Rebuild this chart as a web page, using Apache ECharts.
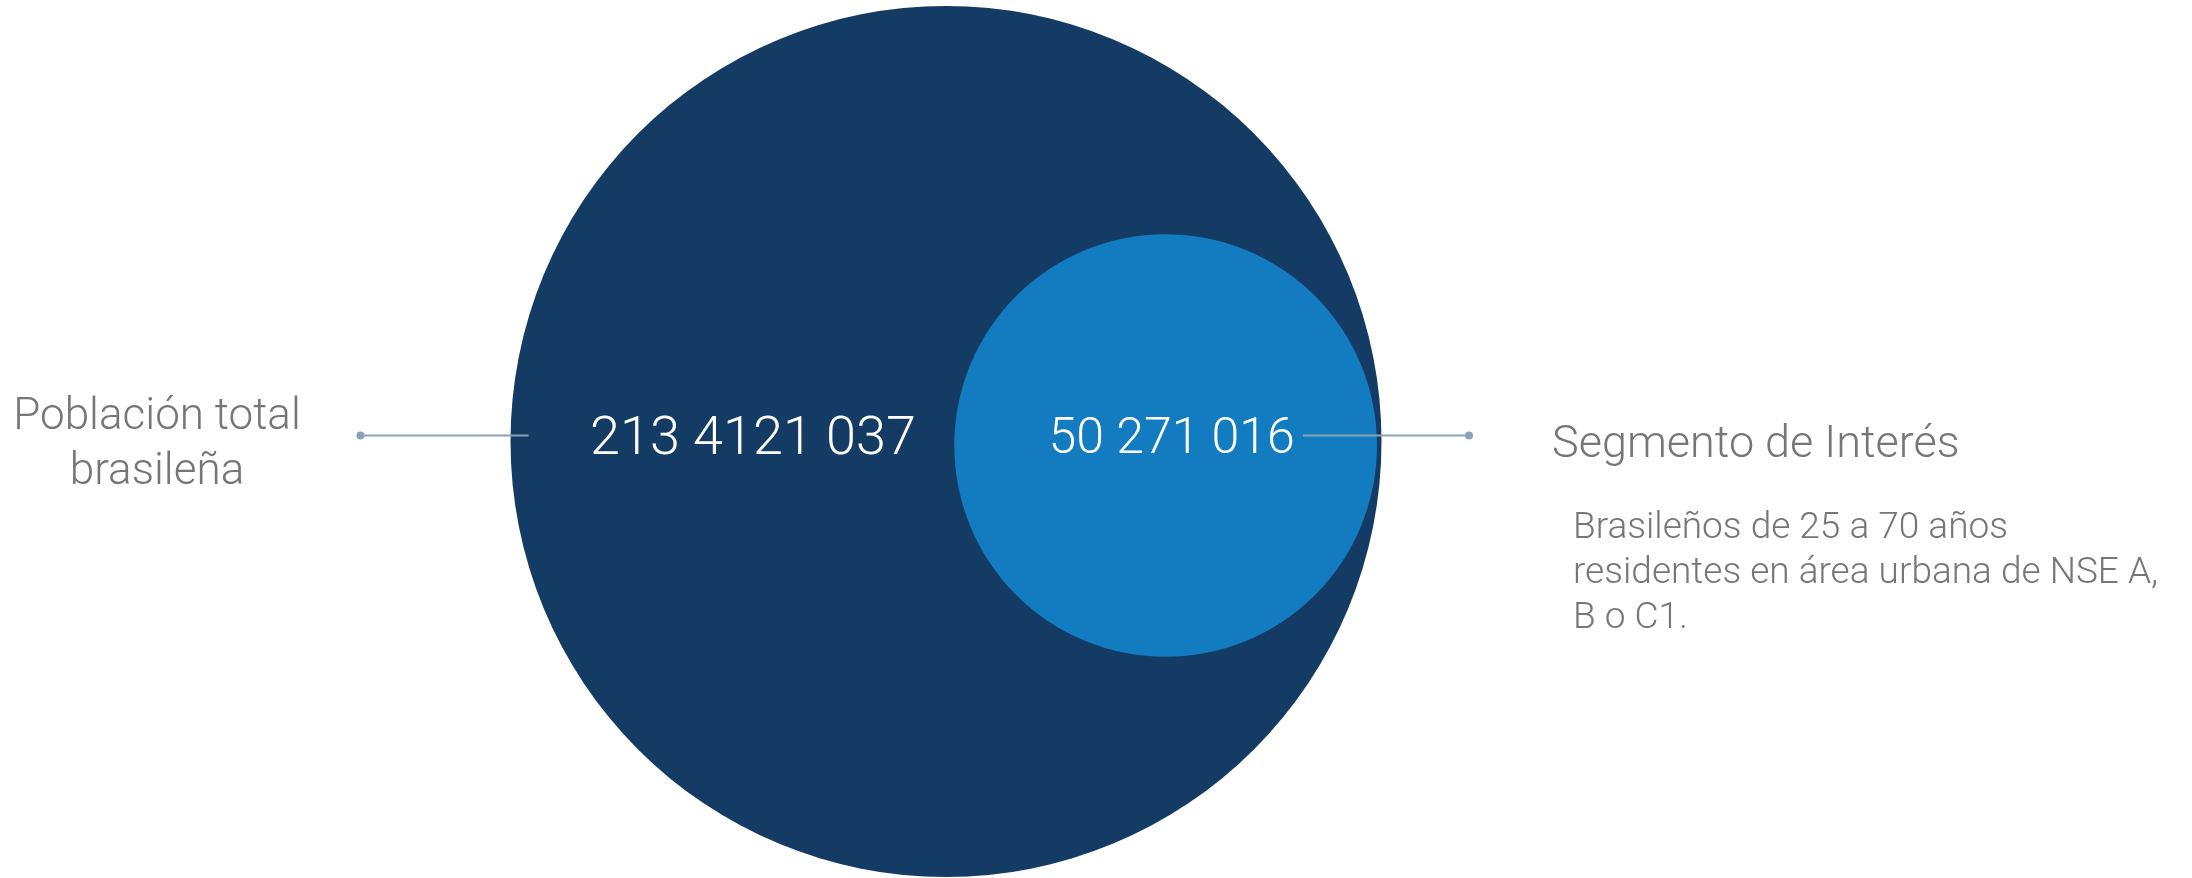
<!DOCTYPE html>
<html>
<head>
<meta charset="utf-8">
<title>Población total brasileña y segmento de interés</title>
<script src="https://cdn.jsdelivr.net/npm/echarts@6/dist/echarts.min.js"></script>
<style>
  html, body { margin: 0; padding: 0; background: #ffffff; }
  #chart { width: 2192px; height: 878px; }
</style>
</head>
<body>
<div id="chart"></div>
<script>
// Populations drawn as nested circles (area proportional to the count)
const circleNames = ['Población total brasileña', 'Segmento de Interés'];
const populationValues = [213412037, 50271016];
const valueLabels = ['213 4121 037', '50 271 016'];
const sideTitles = [['Población total', 'brasileña'], ['Segmento de Interés']];
const descriptionLines = ['Brasileños de 25 a 70 años', 'residentes en área urbana de NSE A,', 'B o C1.'];

const W = 2192, H = 878;
const FONT = 'Roboto, "Helvetica Neue", Arial, sans-serif';
const fillColors = ['#143b63', '#137bc0'];
const leaderColor = '#8aa2b6';
const greyText = '#767676';

// Axis units are sqrt(people), so circle radii come straight from the values
const maxValue = Math.max(...populationValues);
const bigRadiusPx = 435.5;
const pxPerUnit = bigRadiusPx / Math.sqrt(maxValue);
const radiusUnits = populationValues.map(v => Math.sqrt(v));

// Large circle centre, the segment circle sits inside it against the right rim
const bigCenter = [946 / pxPerUnit, 441.5 / pxPerUnit];
const innerInset = 4.5 / pxPerUnit;
const smallCenter = [
  bigCenter[0] + radiusUnits[0] - radiusUnits[1] - innerInset,
  bigCenter[1] + 4 / pxPerUnit
];
const centers = [bigCenter, smallCenter];

const seriesData = populationValues.map((v, i) => ({
  name: circleNames[i],
  value: [centers[i][0], centers[i][1], v]
}));

function renderCircle(params, api) {
  const i = params.dataIndex;
  const c = api.coord([api.value(0), api.value(1)]);
  const r = api.size([Math.sqrt(api.value(2)), 0])[0];
  const leaderY = 435.5;
  const textY = leaderY + 5;   // optical centre of the lining digits
  const children = [{
    type: 'circle',
    shape: { cx: c[0], cy: c[1], r: r },
    style: { fill: fillColors[i] },
    z2: 1
  }];
  if (i === 0) {
    // value label in the left crescent, leader out to the left title
    const left = c[0] - r;
    children.push(
      { type: 'line', shape: { x1: left - 150, y1: leaderY, x2: left + 18, y2: leaderY },
        style: { stroke: leaderColor, lineWidth: 2 }, z2: 5 },
      { type: 'circle', shape: { cx: left - 150, cy: leaderY, r: 4 }, style: { fill: leaderColor }, z2: 5 },
      { type: 'text', x: c[0] - 193, y: textY,
        style: { text: valueLabels[i], fill: '#ffffff', font: '300 54px ' + FONT, align: 'center', verticalAlign: 'middle' }, z2: 4 },
      { type: 'text', x: 157, y: 445,
        style: { text: sideTitles[i].join('\n'), fill: greyText, font: '300 44px ' + FONT,
          align: 'center', verticalAlign: 'middle', lineHeight: 55 }, z2: 4 }
    );
  } else {
    const right = c[0] + r;
    children.push(
      { type: 'line', shape: { x1: right - 74, y1: leaderY, x2: right + 92, y2: leaderY },
        style: { stroke: leaderColor, lineWidth: 2 }, z2: 5 },
      { type: 'circle', shape: { cx: right + 92, cy: leaderY, r: 4 }, style: { fill: leaderColor }, z2: 5 },
      { type: 'text', x: c[0] + 6, y: textY,
        style: { text: valueLabels[i], fill: '#ffffff', font: '300 50px ' + FONT, align: 'center', verticalAlign: 'middle' }, z2: 4 },
      { type: 'text', x: 1552, y: 446,
        style: { text: sideTitles[i][0], fill: greyText, font: '300 45px ' + FONT, align: 'left', verticalAlign: 'middle' }, z2: 4 },
      { type: 'text', x: 1573, y: 506,
        style: { text: descriptionLines.join('\n'), fill: greyText, font: '300 37px ' + FONT,
          align: 'left', verticalAlign: 'top', lineHeight: 45 }, z2: 4 }
    );
  }
  return { type: 'group', children: children };
}

const chart = echarts.init(document.getElementById('chart'), null, { renderer: 'canvas' });
chart.setOption({
  backgroundColor: '#ffffff',
  animation: false,
  grid: { left: 0, right: 0, top: 0, bottom: 0 },
  xAxis: { type: 'value', min: 0, max: W / pxPerUnit, show: false },
  yAxis: { type: 'value', min: 0, max: H / pxPerUnit, inverse: true, show: false },
  series: [{
    type: 'custom',
    renderItem: renderCircle,
    data: seriesData,
    clip: false
  }]
});
</script>
</body>
</html>
